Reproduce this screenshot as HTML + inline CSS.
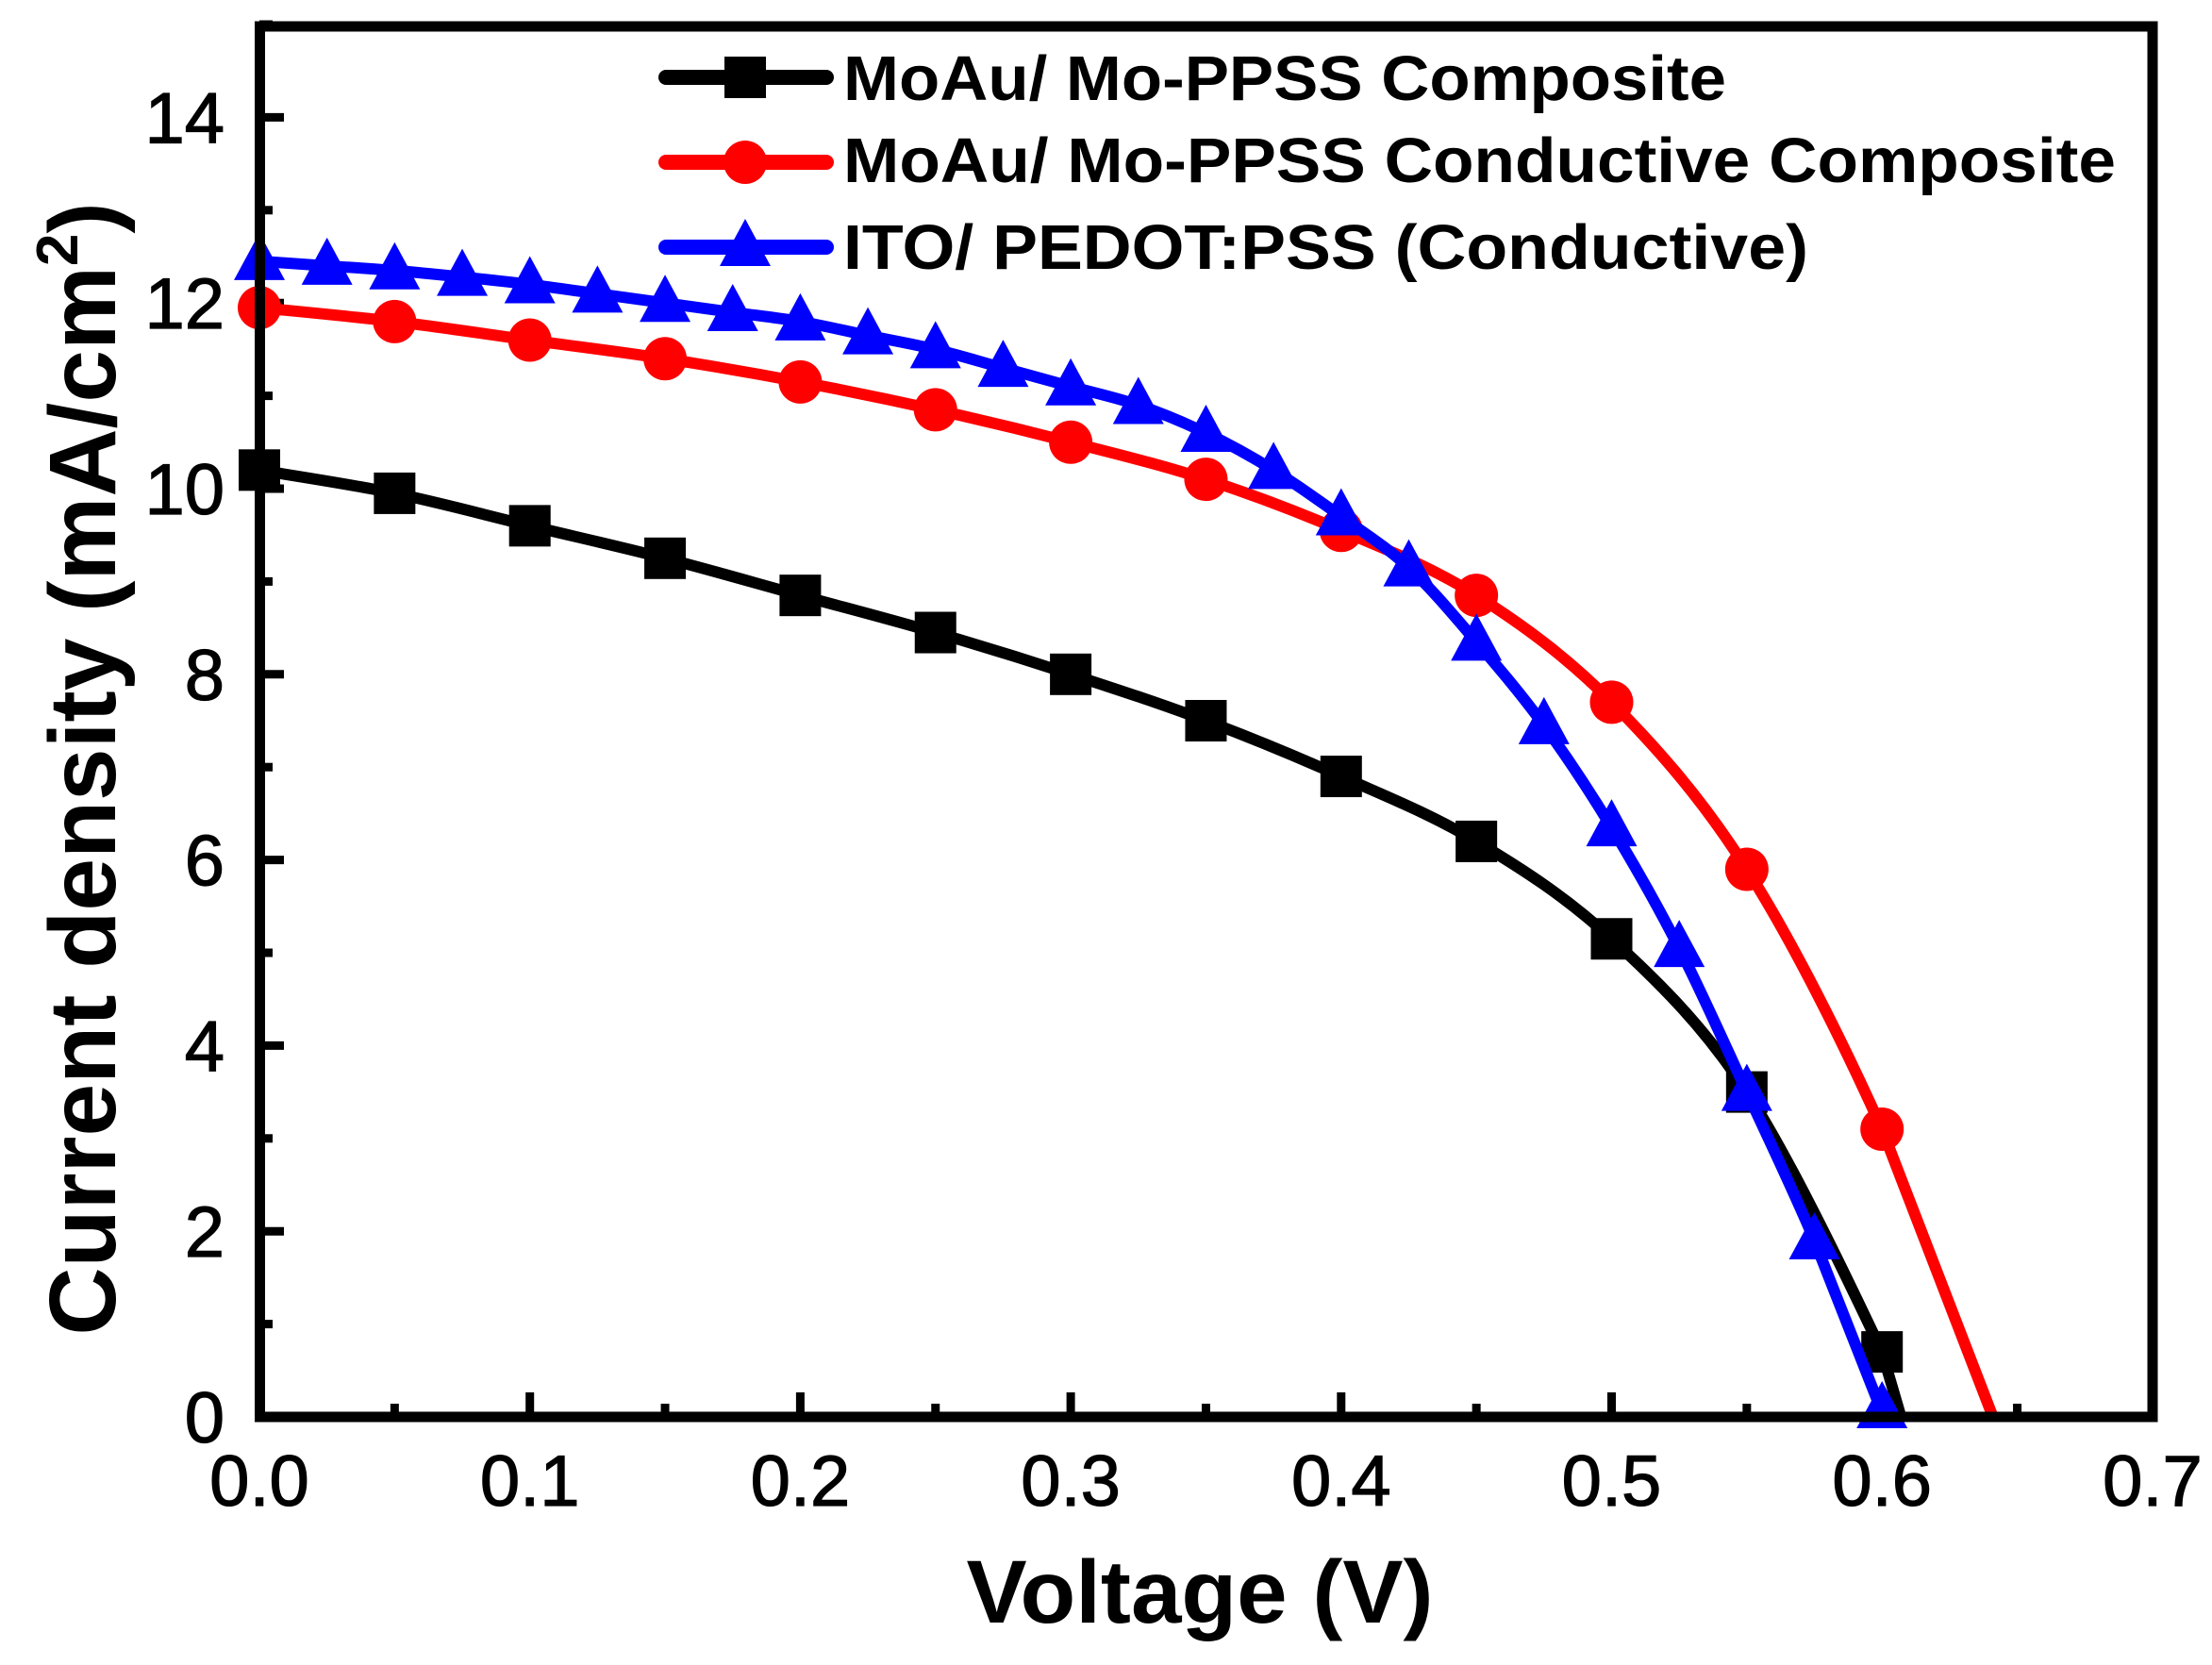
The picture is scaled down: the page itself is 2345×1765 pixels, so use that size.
<!DOCTYPE html>
<html><head><meta charset="utf-8"><style>
html,body{margin:0;padding:0;background:#fff;}
svg{display:block;}
text{font-family:"Liberation Sans",Arial,sans-serif;}
</style></head><body>
<svg id="s" width="2345" height="1765" viewBox="0 0 2345 1765" xmlns="http://www.w3.org/2000/svg">
<rect width="2345" height="1765" fill="#fff"/>
<g id="ticks" stroke="#000" stroke-width="9"></g>
<g id="data"></g>
<rect x="275.5" y="28" width="2006.5" height="1474" fill="none" stroke="#000" stroke-width="11"/>
<g id="labels" font-size="76" fill="#000" stroke="#000" stroke-width="1.2"></g>
<text x="1272" y="1720" font-size="95" font-weight="bold" text-anchor="middle" textLength="495" lengthAdjust="spacingAndGlyphs">Voltage (V)</text>
<text transform="translate(122,815) rotate(-90)" font-size="100" font-weight="bold" text-anchor="middle">Current density (mA/cm<tspan font-size="62" dy="-40">2</tspan><tspan dy="40">)</tspan></text>
<g id="legend"></g>
<text x="894" y="106" font-size="67" font-weight="bold" textLength="936" lengthAdjust="spacingAndGlyphs">MoAu/ Mo-PPSS Composite</text>
<text x="894" y="193" font-size="67" font-weight="bold" textLength="1349" lengthAdjust="spacingAndGlyphs">MoAu/ Mo-PPSS Conductive Composite</text>
<text x="894" y="285" font-size="67" font-weight="bold" textLength="1023" lengthAdjust="spacingAndGlyphs">ITO/ PEDOT:PSS (Conductive)</text>
</svg>
<script>
var NS="http://www.w3.org/2000/svg";
function X(v){return 275+v*2867;}
function Y(v){return 1502-v*98.4;}
function el(t,a,p){var e=document.createElementNS(NS,t);for(var k in a)e.setAttribute(k,a[k]);p.appendChild(e);return e;}
var tk=document.getElementById('ticks'),lb=document.getElementById('labels');
for(var i=0;i<=14;i++){var x=X(i*0.05),maj=i%2==0;
 el('line',{x1:x,y1:1502,x2:x,y2:1502-(maj?26:14)},tk);
 if(maj){var t=el('text',{x:x,y:1596,'text-anchor':'middle'},lb);t.textContent=(i*0.05).toFixed(1);}}
for(var j=0;j<=15;j++){var y=Y(j),maj=j%2==0;
 el('line',{x1:275,y1:y,x2:275+(maj?26:14),y2:y},tk);
 if(maj){var t=el('text',{x:238,y:y+27,'text-anchor':'end'},lb);t.textContent=j;}}
var black=[[0,10.2],[.05,9.95],[.1,9.6],[.15,9.25],[.2,8.85],[.25,8.45],[.3,8.0],[.35,7.5],[.4,6.9],[.45,6.2],[.5,5.15],[.55,3.5],[.6,0.7],[.607,0]];
var red=[[0,11.95],[.05,11.8],[.1,11.6],[.15,11.4],[.2,11.15],[.25,10.85],[.3,10.5],[.35,10.1],[.4,9.55],[.45,8.85],[.5,7.7],[.55,5.9],[.6,3.1],[.641,0]];
var blue=[[0,12.45],[.025,12.4],[.05,12.35],[.075,12.28],[.1,12.2],[.125,12.1],[.15,12.0],[.175,11.9],[.2,11.8],[.225,11.65],[.25,11.5],[.275,11.3],[.3,11.1],[.325,10.9],[.35,10.6],[.375,10.2],[.4,9.7],[.425,9.15],[.45,8.35],[.475,7.45],[.5,6.35],[.525,5.05],[.55,3.5],[.575,1.9],[.6,0.05]];
function path(d){var p=d.map(function(a){return [X(a[0]),Y(a[1])];});var s='M'+p[0][0]+','+p[0][1];
 for(var i=0;i<p.length-1;i++){
  if(i==p.length-2){s+=' L'+p[i+1][0]+','+p[i+1][1];continue;}
  var p0=p[i-1]||p[i],p1=p[i],p2=p[i+1],p3=p[i+2]||p2;
  s+=' C'+(p1[0]+(p2[0]-p0[0])/6)+','+(p1[1]+(p2[1]-p0[1])/6)+' '+(p2[0]-(p3[0]-p1[0])/6)+','+(p2[1]-(p3[1]-p1[1])/6)+' '+p2[0]+','+p2[1];}
 return s;}
function mark(type,x,y,c,g){
 if(type=='s')el('rect',{x:x-22,y:y-22,width:44,height:44,fill:c},g);
 else if(type=='c')el('circle',{cx:x,cy:y,r:23,fill:c},g);
 else el('polygon',{points:(x)+','+(y-30)+' '+(x-27)+','+(y+20)+' '+(x+27)+','+(y+20),fill:c},g);}
var dg=document.getElementById('data');
[[black,'#000','s',13],[red,'#f00','c',13],[blue,'#00f','t',24]].forEach(function(s){
 el('path',{d:path(s[0]),fill:'none',stroke:s[1],'stroke-width':12,'stroke-linejoin':'round'},dg);
 var pts=s[0].slice(0,s[3]);
 pts.forEach(function(a){mark(s[2],X(a[0]),Y(a[1]),s[1],dg);});
 if(s[2]=='t')mark('t',X(.6),Y(0)-8,s[1],dg);
});
var lg=document.getElementById('legend');
[[82,'#000','s'],[172,'#f00','c'],[262,'#00f','t']].forEach(function(r){
 el('line',{x1:706,y1:r[0],x2:876,y2:r[0],stroke:r[1],'stroke-width':16,'stroke-linecap':'round'},lg);
 mark(r[2],790,r[0],r[1],lg);});
</script>
</body></html>
